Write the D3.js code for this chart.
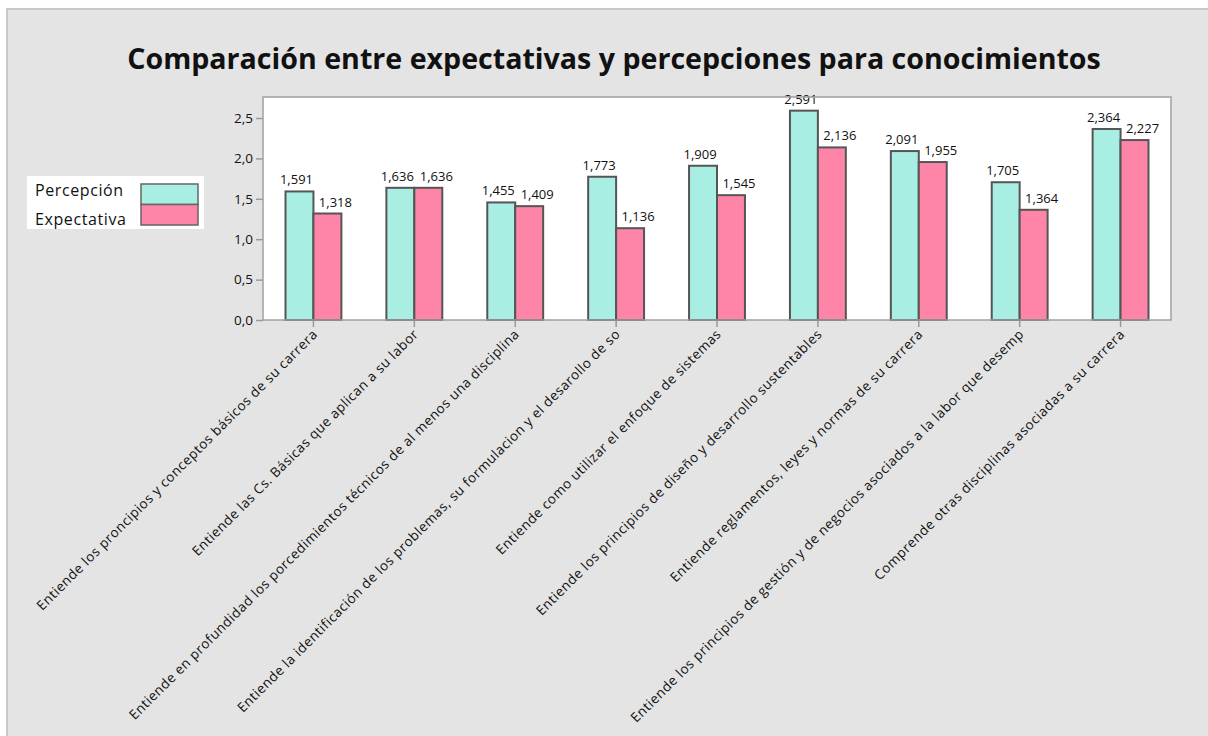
<!DOCTYPE html>
<html>
<head>
<meta charset="utf-8">
<script src="https://cdn.jsdelivr.net/npm/d3@7"></script>
<style>
  body { margin: 0; background: #fff; }
  text { font-family: "Open Sans", "Noto Sans", sans-serif; fill: #111; }
</style>
</head>
<body>
<div id="chart"></div>
<script>
// categories and values
var categories = [
  "Entiende los proncipios y conceptos básicos de su carrera",
  "Entiende las Cs. Básicas que aplican a su labor",
  "Entiende en profundidad los porcedimientos técnicos de al menos una disciplina",
  "Entiende la identificación de los problemas, su formulacion y el desarollo de so",
  "Entiende como utilizar el enfoque de sistemas",
  "Entiende los principios de diseño y desarrollo sustentables",
  "Entiende reglamentos, leyes y normas de su carrera",
  "Entiende los principios de gestión y de negocios asociados a la labor que desemp",
  "Comprende otras disciplinas asociadas a su carrera"
];
var percepcion = [1.591, 1.636, 1.455, 1.773, 1.909, 2.591, 2.091, 1.705, 2.364];
var expectativa = [1.318, 1.636, 1.409, 1.136, 1.545, 2.136, 1.955, 1.364, 2.227];
var seriesNames = ["Percepción", "Expectativa"];
var yTicks = [0, 0.5, 1.0, 1.5, 2.0, 2.5];

var colors = ["#a8eee2", "#ff85a8"];

var svgWidth = 1208;
var svgHeight = 736;

var margin = { top: 97, right: 37, bottom: 416, left: 263 };
var width = svgWidth - margin.left - margin.right;
var height = svgHeight - margin.top - margin.bottom;

var svg = d3.select("#chart")
  .append("svg")
  .attr("width", svgWidth)
  .attr("height", svgHeight);

// grey panel behind everything
svg.append("rect")
  .attr("x", 6).attr("y", 8)
  .attr("width", svgWidth - 6).attr("height", svgHeight - 8)
  .attr("fill", "#e4e4e4");
svg.append("path")
  .attr("d", `M7,${svgHeight} V9 H${svgWidth}`)
  .attr("fill", "none")
  .attr("stroke", "#c9c9c9")
  .attr("stroke-width", 2);

svg.append("text")
  .attr("x", 614)
  .attr("y", 69)
  .attr("text-anchor", "middle")
  .style("font-size", "28.6px")
  .style("font-weight", "bold")
  .text("Comparación entre expectativas y percepciones para conocimientos");

var chartGroup = svg.append("g")
  .attr("transform", `translate(${margin.left}, ${margin.top})`);

var data = categories.map(function(c, i) {
  return { cat: c, values: [percepcion[i], expectativa[i]] };
});

var x0 = d3.scaleBand()
  .domain(categories)
  .range([0, width])
  .padding(0);

var barW = x0.bandwidth() * 0.277;

var yScale = d3.scaleLinear()
  .domain([0, 2.76])
  .range([height, 0]);

chartGroup.append("rect")
  .attr("width", width)
  .attr("height", height)
  .attr("fill", "#fff");

// y axis
var leftAxis = d3.axisLeft(yScale)
  .tickValues(yTicks)
  .tickSize(7)
  .tickFormat(d => d3.format(".1f")(d).replace(".", ","));

var yAxisG = chartGroup.append("g").call(leftAxis);
yAxisG.select(".domain").remove();
yAxisG.selectAll("line").attr("stroke", "#999").attr("stroke-width", 1.5);
yAxisG.selectAll("text")
  .attr("x", -10)
  .style("font-size", "13.5px")
  .style("font-family", "'Open Sans', sans-serif")
  .attr("fill", "#111");

// x axis
var bottomAxis = d3.axisBottom(x0).tickSize(7).tickFormat("");
var xAxisG = chartGroup.append("g")
  .attr("transform", `translate(0, ${height})`)
  .call(bottomAxis);
xAxisG.select(".domain").remove();
xAxisG.selectAll("line").attr("stroke", "#999").attr("stroke-width", 1.5);

chartGroup.append("g")
  .selectAll("text")
  .data(categories)
  .enter()
  .append("text")
  .attr("transform", d => `translate(${x0(d) + x0.bandwidth() / 2 + 5}, ${height + 15}) rotate(-45)`)
  .attr("text-anchor", "end")
  .style("font-size", "13.5px")
  .style("letter-spacing", "0.5px")
  .text(d => d);

// bars
var groups = chartGroup.selectAll(".grp")
  .data(data)
  .enter()
  .append("g")
  .attr("transform", d => `translate(${x0(d.cat) + x0.bandwidth() / 2 - barW}, 0)`);

groups.selectAll("rect")
  .data(d => d.values)
  .enter()
  .append("rect")
  .attr("x", (d, i) => i * barW)
  .attr("y", d => yScale(d))
  .attr("width", barW)
  .attr("height", d => height - yScale(d))
  .attr("fill", (d, i) => colors[i])
  .attr("stroke", "#555")
  .attr("stroke-width", 2);

// value labels, nudged apart like the original
groups.selectAll(".lbl")
  .data(d => d.values)
  .enter()
  .append("text")
  .attr("x", (d, i) => i * barW + barW / 2 + (i === 0 ? -3 : 8))
  .attr("y", d => yScale(d) - 7)
  .attr("text-anchor", "middle")
  .style("font-size", "13px")
  .text(d => d3.format(".3f")(d).replace(".", ","));

// plot frame
chartGroup.append("rect")
  .attr("width", width)
  .attr("height", height)
  .attr("fill", "none")
  .attr("stroke", "#a0a0a0")
  .attr("stroke-width", 1.5);

// legend
var legend = svg.append("g").attr("transform", "translate(27, 176)");
legend.append("rect")
  .attr("width", 177)
  .attr("height", 53)
  .attr("fill", "#fff");

seriesNames.forEach(function(name, i) {
  legend.append("text")
    .attr("x", 8)
    .attr("y", 20 + i * 29)
    .style("font-size", "16px")
    .style("letter-spacing", "0.6px")
    .text(name);
  legend.append("rect")
    .attr("x", 114)
    .attr("y", 8 + i * 20.5)
    .attr("width", 57)
    .attr("height", 20.5)
    .attr("fill", colors[i])
    .attr("stroke", "#666")
    .attr("stroke-width", 1.5);
});
</script>
</body>
</html>
